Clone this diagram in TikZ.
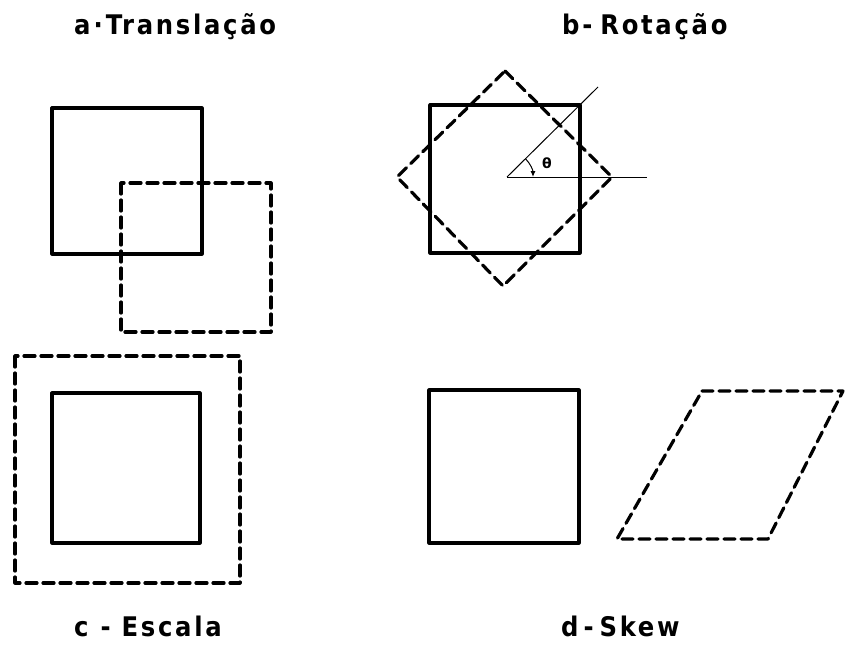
\documentclass[tikz,border=0pt]{standalone}
\usepackage{fontspec}
\newfontfamily\titlefont{DejaVu Sans Condensed}[LetterSpace=10]
\newfontfamily\thetafont{DejaVu Sans}
\usetikzlibrary{arrows.meta}
\tikzset{
  solidsq/.style={line width=3.2pt, line join=round},
  dashsq/.style={line width=3.2pt, dash pattern=on 11pt off 6pt, line join=round, line cap=round},
  thinln/.style={line width=1pt},
  title/.style={font=\titlefont\bfseries\fontsize{27}{30}\selectfont, inner sep=0pt, anchor=base west},
}
\begin{document}
\begin{tikzpicture}[x=1pt,y=-1pt]
\useasboundingbox (0,0) rectangle (845,645);
% titles
\node[title] (ta) at (74,34) {a\hspace{3pt}·\hspace{3pt}Translação};
\node[title] (tb) at (562,34) {b-\hspace{8pt}Rotação};
\node[title] (tc) at (74,636) {c\hspace{12pt}-\hspace{11pt}Escala};
\node[title] (td) at (561,636) {d\hspace{5pt}-\hspace{6pt}Skew};
% a - translation
\draw[solidsq] (52,108) rectangle (202,254);
\draw[dashsq] (121,183) rectangle (271,332);
% b - rotation
\draw[solidsq] (430,105) rectangle (580,253);
\draw[dashsq] (505,71) -- (612,177) -- (503,286) -- (397,177) -- cycle;
\coordinate (c) at (507,177);
\coordinate (h) at (647,177);
\coordinate (dg) at (598,87);
\draw[thinln] (c) -- (h);
\draw[thinln] (c) -- (dg);
\draw[thinln,-{Latex[length=6pt,width=5pt]}] ([shift={(-45:26)}]c) arc[start angle=-45, end angle=0, radius=26];
\node[font=\thetafont\bfseries\fontsize{14}{14}\selectfont, inner sep=0pt] (th) at (547,163) {θ};
% c - scale
\draw[dashsq] (15,356) rectangle (240,583);
\draw[solidsq] (52,393) rectangle (200,543);
% d - skew
\draw[solidsq] (429,390) rectangle (579,543);
\draw[dashsq] (702,391) -- (843,391) -- (768,539) -- (617,539) -- cycle;
\end{tikzpicture}
\end{document}
